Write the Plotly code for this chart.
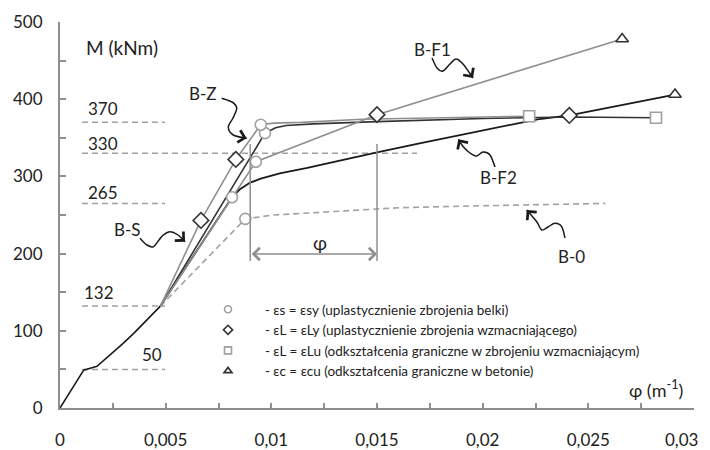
import plotly.graph_objects as go

# ---------------- data ----------------
common_x = [0, 0.00112, 0.00175, 0.0024, 0.003, 0.0035, 0.00475]
common_y = [0, 49, 54, 69, 84, 97, 132]

b0_x = [0.00475, 0.00877, 0.0101, 0.0133, 0.0161, 0.02, 0.0258]
b0_y = [132, 245, 250, 255.5, 259.5, 262, 265]

bs_x = [0.00475, 0.0097, 0.0102, 0.0107, 0.012, 0.015, 0.02, 0.0241, 0.0282]
bs_y = [132, 356, 363, 366, 368, 371, 375, 377, 376]

bz_x = [0.00475, 0.00667, 0.00832, 0.0095, 0.0101, 0.0114, 0.0143, 0.018, 0.0222]
bz_y = [132, 243, 322, 367, 369, 370, 374, 376, 378]

bf1_x = [0.00475, 0.00927, 0.015, 0.0266]
bf1_y = [132, 319, 380, 478]

bf2_x = [0.00475, 0.00814, 0.0085, 0.009, 0.0095, 0.0104, 0.0117, 0.0133, 0.015,
         0.0169, 0.0189, 0.0208, 0.0226, 0.0241, 0.0291]
bf2_y = [132, 273, 283, 292, 297, 304, 311, 321, 331, 342, 353, 364, 374, 379, 406]

circle_x = [0.00877, 0.00814, 0.00927, 0.0097, 0.0095]
circle_y = [245, 273, 319, 356, 367]
diamond_x = [0.00667, 0.00832, 0.015, 0.0241]
diamond_y = [243, 322, 380, 379]
square_x = [0.0222, 0.0282]
square_y = [378, 376]
triangle_x = [0.0266, 0.0291]
triangle_y = [478, 406]

ref_levels = [370, 330, 265, 132, 50]
ref_labels = ["370", "330", "265", "132", "50"]
phi_left, phi_right = 0.009, 0.015

x_ticks = [0, 0.005, 0.01, 0.015, 0.02, 0.025, 0.03]
x_ticktext = ["0", "0,005", "0,01", "0,015", "0,02", "0,025", "0,03"]
y_ticks = [0, 100, 200, 300, 400, 500]

legend_names = [
    "- εs = εsy (uplastycznienie zbrojenia belki)",
    "- εL = εLy (uplastycznienie zbrojenia wzmacniającego)",
    "- εL = εLu (odkształcenia graniczne w zbrojeniu wzmacniającym)",
    "- εc = εcu (odkształcenia graniczne w betonie)",
]

# ---------------- layout helpers ----------------
OFF = 8                      # page body margin
W, H = 710 - OFF, 450 - OFF
PX0, PY0 = 60, 22            # plot area top-left in page pixels
PW, PH = 634, 386
L, T = PX0 - OFF, PY0 - OFF
R, B = W - L - PW, H - T - PH
XMAX, YMAX = 0.03, 500


def d(px, py):
    """page pixel -> data coordinates"""
    return ((px - PX0) / PW * XMAX, (PY0 + PH - py) / PH * YMAX)


GRAY = "#8f8f8f"
LGRAY = "#a0a0a0"
DARK = "#1a1a1a"
DARK2 = "#333333"
FONT = "Lato"

fig = go.Figure()


def line(x, y, color, width=1.6, dash=None):
    fig.add_trace(go.Scatter(x=x, y=y, mode="lines", showlegend=False,
                             line=dict(color=color, width=width, dash=dash),
                             hoverinfo="skip"))


line(common_x, common_y, DARK, 1.6)
line(b0_x, b0_y, LGRAY, 1.6, "6px,4px")
line(bf2_x, bf2_y, DARK, 1.8)
line(bs_x, bs_y, DARK2, 1.6)
line(bz_x, bz_y, GRAY, 1.6)
line(bf1_x, bf1_y, GRAY, 1.6)


def markers(x, y, symbol, color, size):
    fig.add_trace(go.Scatter(x=x, y=y, mode="markers", showlegend=False,
                             marker=dict(symbol=symbol, size=size, color="white",
                                         line=dict(color=color, width=1.6)),
                             cliponaxis=False, hoverinfo="skip"))


markers(circle_x, circle_y, "circle", LGRAY, 11)
markers(diamond_x, diamond_y, "diamond", DARK2, 12)
markers(square_x, square_y, "square", LGRAY, 11)
markers(triangle_x, triangle_y, "triangle-up", DARK2, 11)

# legend-only dummy traces
pad = "\u2003\u2002"
for name, sym, col in zip(legend_names,
                          ["circle", "diamond", "square", "triangle-up"],
                          [LGRAY, DARK2, LGRAY, DARK2]):
    fig.add_trace(go.Scatter(x=[None], y=[None], mode="markers", name=pad + name,
                             marker=dict(symbol=sym, size=7, color="white",
                                         line=dict(color=col, width=1.6))))

# reference dashed lines
x0r, _ = d(82, 0)
x1r, _ = d(165, 0)
x1long, _ = d(417, 0)
for lvl in ref_levels:
    fig.add_shape(type="line", x0=x0r, x1=(x1long if lvl == 330 else x1r), y0=lvl, y1=lvl,
                  line=dict(color=LGRAY, width=1.5, dash="6px,4px"), layer="below")

label_pos = {"370": (103, 108), "330": (103, 143), "265": (103, 192),
             "132": (99, 292), "50": (152, 354)}
for lab in ref_labels:
    xx, yy = d(*label_pos[lab])
    fig.add_annotation(x=xx, y=yy, text=lab, showarrow=False,
                       font=dict(family=FONT, size=17, color="#222"))

# phi dimension
_, ytop = d(0, 144)
_, ybot = d(0, 261)
_, yarr = d(0, 254)
for xv in (phi_left, phi_right):
    fig.add_shape(type="line", x0=xv, x1=xv, y0=ybot, y1=ytop,
                  line=dict(color=GRAY, width=1.5))
fig.add_annotation(x=phi_right, y=yarr, ax=phi_left, ay=yarr, axref="x", ayref="y",
                   text="", showarrow=True, arrowhead=4, arrowside="end+start",
                   arrowsize=1.6, arrowwidth=1.5, arrowcolor=GRAY, standoff=0, startstandoff=0)
xx, yy = d(320, 242)
fig.add_annotation(x=xx, y=yy, text="φ", showarrow=False,
                   font=dict(family=FONT, size=19, color="#222"))


# squiggly pointer arrows (page pixel paths)
def squiggle(pts):
    P = [d(*p) for p in pts]
    s = f"M {P[0][0]},{P[0][1]}"
    for i in range(len(P) - 1):
        p0 = P[i - 1] if i > 0 else P[i]
        p1, p2 = P[i], P[i + 1]
        p3 = P[i + 2] if i + 2 < len(P) else P[i + 1]
        c1 = (p1[0] + (p2[0] - p0[0]) / 6, p1[1] + (p2[1] - p0[1]) / 6)
        c2 = (p2[0] - (p3[0] - p1[0]) / 6, p2[1] - (p3[1] - p1[1]) / 6)
        s += f" C {c1[0]},{c1[1]} {c2[0]},{c2[1]} {p2[0]},{p2[1]}"
    fig.add_shape(type="path", path=s, line=dict(color=DARK, width=1.5))
    (ax_, ay_), (tx, ty) = pts[-2], pts[-1]
    dx, dy = tx - ax_, ty - ay_
    n = (dx * dx + dy * dy) ** 0.5
    txd, tyd = d(tx, ty)
    fig.add_annotation(x=txd, y=tyd, ax=-dx / n * 6, ay=-dy / n * 6, text="",
                       showarrow=True, arrowhead=4, arrowsize=1.6, arrowwidth=1.5,
                       arrowcolor=DARK, standoff=0)


squiggle([(432, 58), (437, 68), (443, 71), (450, 64), (456, 59), (463, 64), (473, 78)])
squiggle([(495, 167), (490, 155), (483, 152), (476.7, 156), (470, 153), (463.3, 146.7), (458.3, 139.3)])
squiggle([(565, 238), (561.7, 226.7), (555, 223.3), (548, 227), (541.7, 230), (536.7, 221.7), (526.7, 210)])
squiggle([(221.7, 98.3), (232, 102), (236.7, 108), (233, 118), (228.3, 127), (233.3, 135), (246.7, 138.3)])
squiggle([(140, 238.3), (147, 245), (153.3, 246.7), (159, 240), (163.3, 235), (170, 231.7), (178, 235), (185, 241.7)])

# curve labels
for txt, p in [("B-F1", (432.5, 49)), ("B-Z", (202.5, 93)), ("B-S", (127.5, 229)),
               ("B-F2", (498, 177)), ("B-0", (571.7, 256.7))]:
    xx, yy = d(*p)
    fig.add_annotation(x=xx, y=yy, text=txt, showarrow=False,
                       font=dict(family=FONT, size=17, color="#222"))

xx, yy = d(122, 47)
fig.add_annotation(x=xx, y=yy, text="M (kNm)", showarrow=False,
                   font=dict(family=FONT, size=19, color="#222"))
xx, yy = d(656, 389)
fig.add_annotation(x=xx, y=yy, text="φ (m<sup>-1</sup>)", showarrow=False,
                   font=dict(family=FONT, size=18, color="#222"))

# last x tick label kept inside the visible page edge (right-aligned, paper coords)
fig.add_annotation(x=(700 - PX0) / PW, y=(PY0 + PH - 439) / PH, xref="paper", yref="paper",
                   text=x_ticktext[-1], showarrow=False, xanchor="right", yanchor="middle",
                   font=dict(family=FONT, size=17, color="#222"))
axis_ticktext = x_ticktext[:-1] + [""]

fig.update_layout(
    width=W, height=H, margin=dict(l=L, r=R, t=T, b=B, autoexpand=False),
    paper_bgcolor="white", plot_bgcolor="white",
    font=dict(family=FONT, size=17, color="#222"),
    showlegend=True,
    legend=dict(x=d(208, 0)[0] / XMAX, y=d(0, 294)[1] / YMAX, xanchor="left", yanchor="top",
                font=dict(family=FONT, size=13.5, color="#222"), itemwidth=30,
                bgcolor="rgba(0,0,0,0)", tracegroupgap=0),
    xaxis=dict(range=[0, XMAX], showgrid=False, zeroline=False, showline=True,
               automargin=False,
               linecolor=GRAY, linewidth=2, ticks="inside", ticklen=5, tickcolor=GRAY,
               tickwidth=1.5, tickvals=x_ticks, ticktext=axis_ticktext,
               minor=dict(dtick=0.0025, tick0=0, ticks="inside", ticklen=5,
                          tickcolor=GRAY, tickwidth=1.5),
               ticklabelstandoff=16, tickfont=dict(family=FONT, size=17, color="#222")),
    yaxis=dict(range=[0, YMAX], showgrid=False, zeroline=False, showline=True,
               automargin=False,
               linecolor=GRAY, linewidth=2, ticks="inside", ticklen=6, tickcolor=GRAY,
               tickwidth=1.5, tickvals=y_ticks,
               minor=dict(dtick=50, tick0=0, ticks="inside", ticklen=6,
                          tickcolor=GRAY, tickwidth=1.5),
               ticklabelstandoff=12, tickfont=dict(family=FONT, size=17, color="#222")),
)

fig.write_html("out.html")
